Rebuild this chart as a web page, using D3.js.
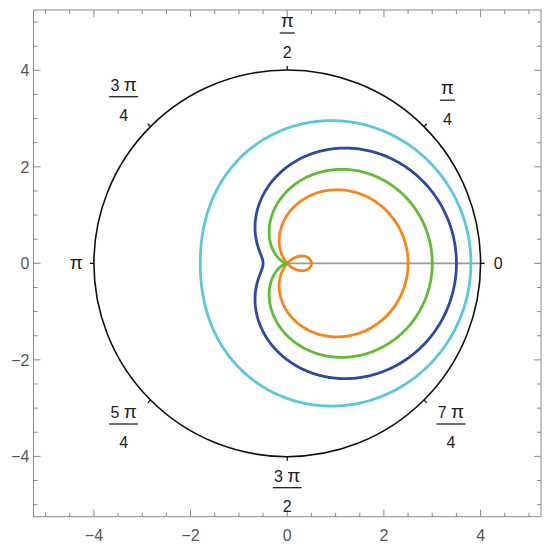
<!DOCTYPE html>
<html>
<head>
<meta charset="utf-8">
<script src="https://cdn.jsdelivr.net/npm/d3@7"></script>
<style>
  body { margin: 0; background: #fff; }
  text { font-family: "Liberation Sans", Arial, sans-serif; }
</style>
</head>
<body>
<script>
// limaçons r = a + b cos(theta)
const curveNames = ['orange', 'green', 'blue', 'cyan'];
const curveA = [1, 1.5, 2, 2.8];
const curveB = [1.5, 1.5, 1.5, 1];
const curveColors = ['#f7851d', '#62bb35', '#2d48a6', '#5cc7dc'];

// polar grid
const outerRadius = 4;
const angleNums = ['0', 'π', 'π', '3 π', 'π', '5 π', '3 π', '7 π'];
const angleDens = [null, '4', '2', '4', null, '4', '2', '4'];

// frame ticks
const majorTicks = [-4, -2, 0, 2, 4];
const minorTicks = d3.range(-5, 5.01, 0.5).filter(d => !majorTicks.includes(d));

const width = 550;
const height = 548;
const frameL = 33.5, frameR = 541, frameT = 10, frameB = 516.7;
const lim = 5.25;

const x = d3.scaleLinear().domain([-lim, lim]).range([frameL, frameR]);
const y = d3.scaleLinear().domain([-lim, lim]).range([frameB, frameT]);

const svg = d3
  .select('body')
  .append('svg')
  .attr('width', width)
  .attr('height', height);

// FRAME
const frameColor = '#8a8a8a';
svg.append('rect')
  .attr('x', frameL).attr('y', frameT)
  .attr('width', frameR - frameL).attr('height', frameB - frameT)
  .attr('fill', 'none')
  .attr('stroke', frameColor)
  .attr('stroke-width', 1);

const tickData = majorTicks.map(v => ({ v, len: 7 }))
  .concat(minorTicks.map(v => ({ v, len: 4 })));

const ticks = svg.append('g')
  .attr('stroke', frameColor)
  .attr('stroke-width', 1);

for (const t of tickData) {
  // bottom and top
  ticks.append('line')
    .attr('x1', x(t.v)).attr('x2', x(t.v))
    .attr('y1', frameB).attr('y2', frameB - t.len);
  ticks.append('line')
    .attr('x1', x(t.v)).attr('x2', x(t.v))
    .attr('y1', frameT).attr('y2', frameT + t.len);
  // left and right
  ticks.append('line')
    .attr('y1', y(t.v)).attr('y2', y(t.v))
    .attr('x1', frameL).attr('x2', frameL + t.len);
  ticks.append('line')
    .attr('y1', y(t.v)).attr('y2', y(t.v))
    .attr('x1', frameR).attr('x2', frameR - t.len);
}

const fmt = v => (v < 0 ? '\u2212' + Math.abs(v) : String(v));

svg.append('g')
  .selectAll('text')
  .data(majorTicks)
  .join('text')
  .attr('x', d => x(d))
  .attr('y', frameB + 24)
  .attr('text-anchor', 'middle')
  .attr('font-size', 16)
  .attr('fill', '#555')
  .text(fmt);

svg.append('g')
  .selectAll('text')
  .data(majorTicks)
  .join('text')
  .attr('x', frameL - 4)
  .attr('y', d => y(d) + 6)
  .attr('text-anchor', 'end')
  .attr('font-size', 16)
  .attr('fill', '#555')
  .text(fmt);

// POLAR AXIS
svg.append('line')
  .attr('x1', x(0)).attr('y1', y(0))
  .attr('x2', x(outerRadius)).attr('y2', y(0))
  .attr('stroke', '#9a9a9a')
  .attr('stroke-width', 1.6);

// CURVES
const thetas = d3.range(0, 2 * Math.PI + 0.001, Math.PI / 360);
const line = d3.line()
  .x(d => x(d[0]))
  .y(d => y(d[1]));

curveNames.forEach((name, i) => {
  const pts = thetas.map(t => {
    const r = curveA[i] + curveB[i] * Math.cos(t);
    return [r * Math.cos(t), r * Math.sin(t)];
  });
  svg.append('path')
    .attr('class', 'curve ' + name)
    .attr('d', line(pts))
    .attr('fill', 'none')
    .attr('stroke', curveColors[i])
    .attr('stroke-width', 2.8)
    .attr('stroke-linejoin', 'round');
});

// OUTER CIRCLE
const rpx = x(outerRadius) - x(0);
svg.append('circle')
  .attr('cx', x(0)).attr('cy', y(0))
  .attr('r', rpx)
  .attr('fill', 'none')
  .attr('stroke', '#111')
  .attr('stroke-width', 1.6);

// ANGLE TICKS + LABELS
const labelFont = 16;

// π drawn a bit larger, like the reference
const writeLabel = (sel, str) => {
  str.split(/(π)/).filter(p => p !== '').forEach(p => {
    sel.append('tspan')
      .attr('font-size', p === 'π' ? 19 : labelFont)
      .text(p);
  });
};

angleNums.forEach((num, k) => {
  const ang = (k * Math.PI) / 4;
  const c = Math.cos(ang), s = Math.sin(ang);
  svg.append('line')
    .attr('x1', x(0) + rpx * c).attr('y1', y(0) - rpx * s)
    .attr('x2', x(0) + (rpx + 4) * c).attr('y2', y(0) - (rpx + 4) * s)
    .attr('stroke', '#111')
    .attr('stroke-width', 1.3);

  const den = angleDens[k];
  const w = den ? (num.length > 1 ? 29 : 15) : 9;
  const h = den ? 42 : 14;
  const support = Math.abs(c) * w / 2 + Math.abs(s) * h / 2;
  const dist = rpx + 13 + support;
  const cx = x(0) + dist * c;
  const cy = y(0) - dist * s;

  const g = svg.append('g').attr('transform', `translate(${cx},${cy})`);
  if (den) {
    const barY = -3;
    const t1 = g.append('text')
      .attr('x', 0).attr('y', barY - 6)
      .attr('text-anchor', 'middle')
      .attr('font-size', labelFont)
      .attr('fill', '#222');
    writeLabel(t1, num);
    g.append('line')
      .attr('x1', -w / 2).attr('x2', w / 2)
      .attr('y1', barY).attr('y2', barY)
      .attr('stroke', '#222')
      .attr('stroke-width', 1.3);
    g.append('text')
      .attr('x', 0).attr('y', barY + 24.5)
      .attr('text-anchor', 'middle')
      .attr('font-size', labelFont)
      .attr('fill', '#222')
      .text(den);
  } else {
    const t0 = g.append('text')
      .attr('x', 0).attr('y', 5.5)
      .attr('text-anchor', 'middle')
      .attr('font-size', labelFont)
      .attr('fill', '#222');
    writeLabel(t0, num);
  }
});
</script>
</body>
</html>
